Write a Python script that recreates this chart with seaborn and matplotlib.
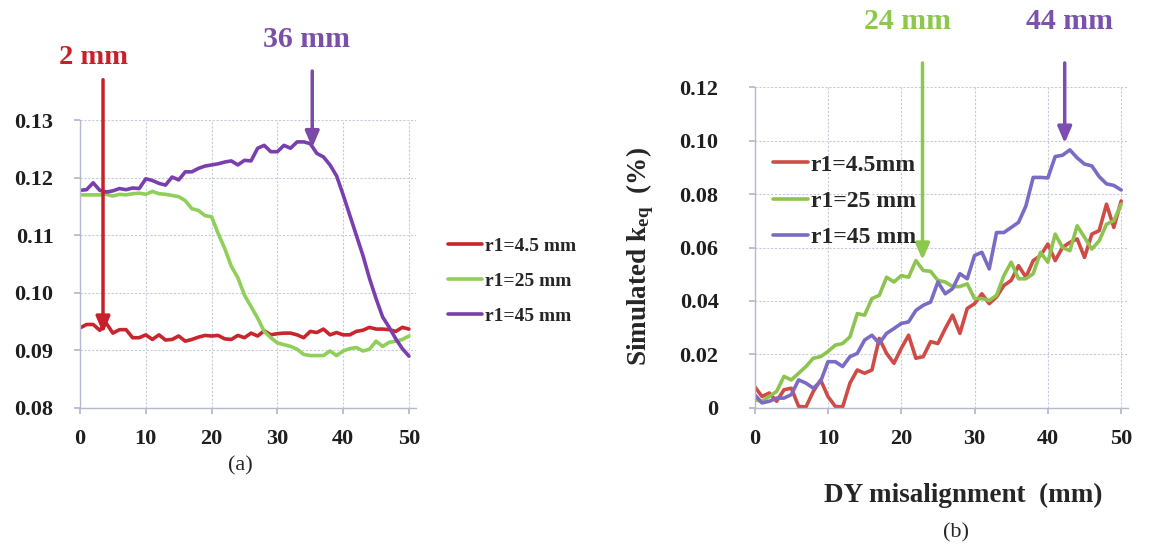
import matplotlib.pyplot as plt
import matplotlib.ticker as mticker
import pandas as pd
import seaborn as sns


# misalignment positions (mm), same grid for every curve
DY_MM = list(range(0, 51))

# panel (a)
A_R45 = [0.0939, 0.0945, 0.0945, 0.0935, 0.0947, 0.0930, 0.0936, 0.0936, 0.0922, 0.0922,
         0.0927, 0.0919, 0.0927, 0.0918, 0.0919, 0.0925, 0.0916, 0.0919, 0.0923, 0.0926,
         0.0925, 0.0926, 0.0920, 0.0919, 0.0926, 0.0922, 0.0930, 0.0925, 0.0934, 0.0927,
         0.0929, 0.0930, 0.0930, 0.0927, 0.0922, 0.0933, 0.0931, 0.0937, 0.0927, 0.0931,
         0.0927, 0.0927, 0.0933, 0.0935, 0.0940, 0.0937, 0.0937, 0.0936, 0.0933, 0.0940,
         0.0937]
A_R25 = [0.1170, 0.1170, 0.1170, 0.1170, 0.1171, 0.1168, 0.1171, 0.1170, 0.1172, 0.1173,
         0.1171, 0.1176, 0.1172, 0.1171, 0.1169, 0.1167, 0.1160, 0.1146, 0.1143, 0.1134,
         0.1132, 0.1103, 0.1077, 0.1046, 0.1026, 0.0996, 0.0976, 0.0956, 0.0933, 0.0922,
         0.0913, 0.0910, 0.0907, 0.0902, 0.0893, 0.0891, 0.0891, 0.0891, 0.0899, 0.0891,
         0.0899, 0.0903, 0.0905, 0.0899, 0.0902, 0.0916, 0.0907, 0.0914, 0.0916, 0.0919,
         0.0925]
A_R45B = [0.1178, 0.1179, 0.1191, 0.1178, 0.1175, 0.1177, 0.1181, 0.1179, 0.1182, 0.1181,
          0.1198, 0.1195, 0.1190, 0.1187, 0.1201, 0.1196, 0.1210, 0.1210, 0.1216, 0.1220,
          0.1222, 0.1224, 0.1227, 0.1229, 0.1222, 0.1230, 0.1229, 0.1251, 0.1256, 0.1245,
          0.1245, 0.1256, 0.1251, 0.1262, 0.1262, 0.1259, 0.1242, 0.1236, 0.1222, 0.1203,
          0.1170, 0.1135, 0.1100, 0.1065, 0.1025, 0.0990, 0.0958, 0.0940, 0.0920, 0.0903,
          0.0890]

# panel (b)
B_R45 = [0.0080, 0.0043, 0.0056, 0.0025, 0.0068, 0.0074, 0.0006, 0.0004, 0.0062, 0.0105,
         0.0043, 0.0006, 0.0004, 0.0093, 0.0142, 0.0130, 0.0142, 0.0260, 0.0204, 0.0167,
         0.0223, 0.0272, 0.0186, 0.0192, 0.0248, 0.0241, 0.0297, 0.0347, 0.0279, 0.0372,
         0.0390, 0.0427, 0.0390, 0.0415, 0.0458, 0.0477, 0.0532, 0.0489, 0.0551, 0.0570,
         0.0613, 0.0551, 0.0600, 0.0619, 0.0632, 0.0563, 0.0650, 0.0663, 0.0762, 0.0675,
         0.0774]
B_R25 = [0.0031, 0.0025, 0.0043, 0.0062, 0.0118, 0.0105, 0.0130, 0.0155, 0.0186, 0.0192,
         0.0211, 0.0235, 0.0241, 0.0266, 0.0353, 0.0347, 0.0409, 0.0421, 0.0489, 0.0471,
         0.0495, 0.0489, 0.0551, 0.0514, 0.0511, 0.0477, 0.0471, 0.0454, 0.0454, 0.0464,
         0.0409, 0.0409, 0.0402, 0.0421, 0.0495, 0.0545, 0.0483, 0.0483, 0.0502, 0.0582,
         0.0545, 0.0650, 0.0600, 0.0588, 0.0681, 0.0638, 0.0594, 0.0625, 0.0687, 0.0700,
         0.0762]
B_R45B = [0.0050, 0.0019, 0.0025, 0.0037, 0.0037, 0.0050, 0.0105, 0.0093, 0.0074, 0.0099,
          0.0173, 0.0173, 0.0155, 0.0192, 0.0204, 0.0254, 0.0272, 0.0241, 0.0279, 0.0297,
          0.0316, 0.0322, 0.0365, 0.0384, 0.0396, 0.0471, 0.0427, 0.0446, 0.0502, 0.0483,
          0.0570, 0.0582, 0.0520, 0.0656, 0.0656, 0.0675, 0.0694, 0.0755, 0.0862, 0.0862,
          0.0860, 0.0940, 0.0945, 0.0965, 0.0935, 0.0912, 0.0905, 0.0865, 0.0838, 0.0832,
          0.0815]

LABELS_A = ["r1=4.5 mm", "r1=25 mm", "r1=45 mm"]
LABELS_B = ["r1=4.5mm", "r1=25 mm", "r1=45 mm"]
A_TICKS = [0.08, 0.09, 0.10, 0.11, 0.12, 0.13]
B_TICKS = [0, 0.02, 0.04, 0.06, 0.08, 0.10, 0.12]
X_TICKS = [0, 10, 20, 30, 40, 50]

COLORS_A = ["#C9252C", "#8FCF5A", "#7A3FAF"]
COLORS_B = ["#CF4B46", "#8DC450", "#7C6BC4"]
GRID = "#C8CCDA"
SPINE = "#B4B9CC"


def configure_style() -> None:
    sns.set_theme(style="white")
    plt.rcParams["font.family"] = ["Liberation Serif", "DejaVu Serif"]
    plt.rcParams["mathtext.fontset"] = "custom"
    plt.rcParams["mathtext.rm"] = "Liberation Serif:bold"
    plt.rcParams["mathtext.it"] = "Liberation Serif:bold"
    plt.rcParams["axes.unicode_minus"] = False


def style_axes(ax, yticks, fmt) -> None:
    ax.set_xlim(0, 51)
    ax.set_ylim(yticks[0], yticks[-1])
    ax.set_xticks(X_TICKS)
    ax.set_yticks(yticks)
    ax.yaxis.set_major_formatter(mticker.FuncFormatter(fmt))
    ax.grid(True, color=GRID, linestyle=(0, (2, 1.5)), linewidth=0.8)
    for side in ("top", "right"):
        ax.spines[side].set_visible(False)
    for side in ("left", "bottom"):
        ax.spines[side].set_color(SPINE)
        ax.spines[side].set_linewidth(1.0)
    ax.tick_params(axis="both", which="both", length=4, color=SPINE, direction="out",
                   labelsize=16, labelcolor="#1E1E1E", left=True, bottom=True)
    ax.tick_params(axis="y", pad=15)
    ax.tick_params(axis="x", pad=11)
    for lab in ax.get_xticklabels() + ax.get_yticklabels():
        lab.set_fontweight("bold")
    ax.set_xlabel("")
    ax.set_ylabel("")


def draw_series(ax, series, labels, colors) -> None:
    for values, label, color in zip(series, labels, colors):
        df = pd.DataFrame({"dy": DY_MM, "k": values})
        sns.lineplot(data=df, x="dy", y="k", color=color, linewidth=2.6,
                     label=label, ax=ax)


def arrow(ax, x, y_from, y_to, color) -> None:
    ax.annotate("", xy=(x, y_to), xytext=(x, y_from), annotation_clip=False,
                arrowprops=dict(arrowstyle="-|>,head_length=0.7,head_width=0.3",
                                color=color, lw=2.5, mutation_scale=14,
                                shrinkA=0, shrinkB=0))


def main() -> None:
    configure_style()
    fig = plt.figure(figsize=(11.61, 5.5), dpi=100)

    ax_a = fig.add_axes([0.0689, 0.2582, 0.289, 0.5236])
    draw_series(ax_a, [A_R45, A_R25, A_R45B], LABELS_A, COLORS_A)
    style_axes(ax_a, A_TICKS, lambda v, _: f"{v:.2f}")
    ax_a.legend(loc="center left", bbox_to_anchor=(0.386, 0.489),
                bbox_transform=fig.transFigure, frameon=False, borderpad=0,
                borderaxespad=0, handlelength=1.75, handletextpad=0.15,
                labelspacing=0.88, prop={"weight": "bold", "size": 14})

    arrow(ax_a, 3.5, 0.1370, 0.0930, "#C8202A")
    arrow(ax_a, 35.3, 0.1385, 0.1252, "#7B4AA8")
    ax_a.text(2.0, 0.1408, "2 mm", color="#C8202A", fontsize=20.5, fontweight="bold",
              ha="center", va="center", clip_on=False)
    ax_a.text(34.5, 0.1440, "36 mm", color="#7B4FA8", fontsize=21.5, fontweight="bold",
              ha="center", va="center", clip_on=False)

    ax_b = fig.add_axes([0.650, 0.2582, 0.322, 0.5836])
    draw_series(ax_b, [B_R45, B_R25, B_R45B], LABELS_B, COLORS_B)
    style_axes(ax_b, B_TICKS, lambda v, _: "0" if abs(v) < 1e-9 else f"{v:.2f}")
    ax_b.tick_params(axis="y", pad=22)
    ax_b.legend(loc="center left", bbox_to_anchor=(0.6658, 0.6345),
                bbox_transform=fig.transFigure, frameon=False, borderpad=0,
                borderaxespad=0, handlelength=1.5, handletextpad=0.1,
                labelspacing=0.62, prop={"weight": "bold", "size": 17})

    arrow(ax_b, 22.9, 0.1290, 0.0553, "#8CC84B")
    arrow(ax_b, 42.3, 0.1290, 0.0990, "#7B4DB0")
    ax_b.text(20.8, 0.1445, "24 mm", color="#8CC84B", fontsize=21.5, fontweight="bold",
              ha="center", va="center", clip_on=False)
    ax_b.text(42.9, 0.1445, "44 mm", color="#7B52AB", fontsize=21.5, fontweight="bold",
              ha="center", va="center", clip_on=False)

    fig.text(640 / 1161, 1 - 257 / 550, "Simulated k$_{\\rm eq}$  (%)", rotation=90,
             fontsize=19.5, fontweight="bold", ha="center", va="center")
    fig.text(963 / 1161, 1 - 495 / 550, "DY misalignment  (mm)", fontsize=19.5,
             fontweight="bold", ha="center", va="center")
    fig.text(240 / 1161, 1 - 466 / 550, "(a)", fontsize=16, ha="center", va="center")
    fig.text(956 / 1161, 1 - 533 / 550, "(b)", fontsize=16, ha="center", va="center")

    fig.savefig("out.png", dpi=100, facecolor="white")
    plt.close(fig)


if __name__ == "__main__":
    main()
